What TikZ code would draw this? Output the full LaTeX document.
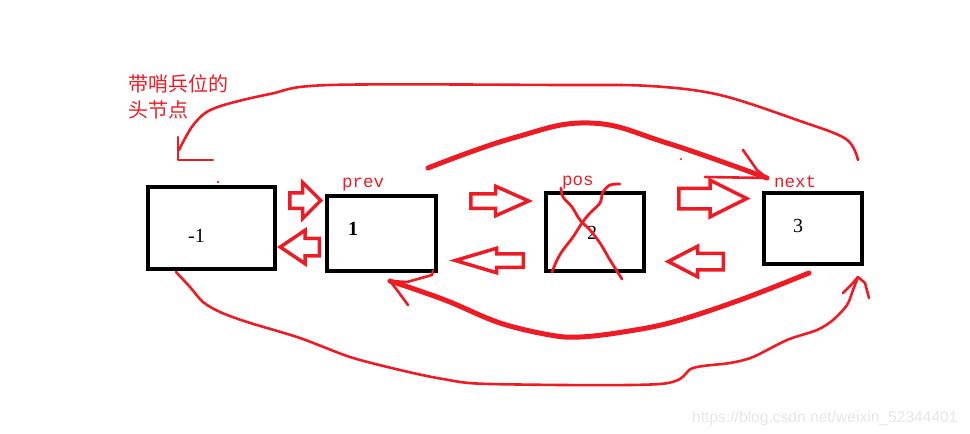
\documentclass[tikz,border=0pt]{standalone}
\usepackage{fontspec}
\setmainfont{Liberation Serif}
\setmonofont{Liberation Mono}
\setsansfont{Liberation Sans}
\newfontfamily\cjk{Noto Sans CJK SC}
\usepackage{tikz}
\usetikzlibrary{shapes.arrows}
\definecolor{cRed}{RGB}{237,28,36}
\definecolor{cMark}{RGB}{230,230,230}
\tikzset{
	cell/.style    ={rectangle, draw=black, line width=4pt, inner sep=0pt},
	num/.style     ={anchor=base west, inner sep=0pt, font=\fontsize{20}{20}\selectfont},
	tag/.style     ={anchor=base west, inner sep=0pt, text=cRed, font=\ttfamily\fontsize{17.5}{18}\selectfont},
	blockarr/.style={single arrow, draw=cRed, line width=3.5pt, fill=white, inner xsep=0pt, minimum width=0pt, anchor=tail},
	% hand drawn strokes
	pen/.style     ={cRed, line width=2.6pt, line cap=round, line join=round},
	bigpen/.style  ={cRed, line width=5pt, line cap=round, line join=round},
}

\begin{document}
\begin{tikzpicture}[x=1pt, y=-1pt]
	\useasboundingbox (0,0) rectangle (970,434);
	% list cells
	\node[cell, minimum width=127pt, minimum height=82pt] (b0) at (211.5,228) {};
	\node[cell, minimum width=109pt, minimum height=75pt] (b1) at (381.5,233.5) {};
	\node[cell, minimum width=98pt, minimum height=78pt] (b2) at (595,232) {};
	\node[cell, minimum width=98pt, minimum height=71pt] (b3) at (813,228.5) {};
	\node[num] (v0) at (188,242) {-1};
	\node[num, font=\bfseries\fontsize{20}{20}\selectfont] (v1) at (348,235) {1};
	\node[num] (v2) at (587,239) {2};
	\node[num] (v3) at (793,232) {3};
	% labels
	\node[tag] (tprev) at (342,187) {prev};
	\node[tag] (tpos) at (562,185) {pos};
	\node[tag] (tnext) at (774,187) {next};
	\node[anchor=north west, inner sep=0pt, align=left, text=cRed, font=\cjk\fontsize{20}{25.5}\selectfont] (head) at (128,74.5) {带哨兵位的\\头节点};
	% prev / next block arrows
	\node[blockarr, minimum height=31pt, inner ysep=6pt, single arrow head extend=10.5pt, single arrow tip angle=90] (a01) at (288,200.5) {};
	\node[blockarr, shape border rotate=180, minimum height=39pt, inner ysep=7pt, single arrow head extend=8pt, single arrow tip angle=68] (a10) at (321,247) {};
	\node[blockarr, minimum height=58pt, inner ysep=5.5pt, single arrow head extend=7.5pt, single arrow tip angle=48] (a12) at (469,201) {};
	\node[blockarr, shape border rotate=180, minimum height=68pt, inner ysep=5pt, single arrow head extend=5.5pt, single arrow tip angle=33] (a21) at (525,260.5) {};
	\node[blockarr, minimum height=68pt, inner ysep=8.5pt, single arrow head extend=8pt, single arrow tip angle=53] (a23) at (677,198.5) {};
	\node[blockarr, shape border rotate=180, minimum height=55pt, inner ysep=6.5pt, single arrow head extend=7pt, single arrow tip angle=55] (a32) at (725,261.5) {};
	% cross over the removed cell
	\draw[pen, line width=2.8pt] plot[smooth, tension=0.5] coordinates {(561,188) (563,197) (572,207) (580,220) (590,230) (600,243) (610,260) (622,279)};
	\draw[pen, line width=2.8pt] plot[smooth, tension=0.5] coordinates {(620,184) (610,185) (603,192) (600,203) (590,213) (582,223) (573,237) (563,250) (557,260) (552,272)};
	% curve ends
	\coordinate (tS) at (858,160);
	\coordinate (tE) at (178,160);
	\coordinate (mS) at (428,168);
	\coordinate (mE) at (767,178);
	\coordinate (nS) at (809,273);
	\coordinate (nE) at (390,281);
	\coordinate (lS) at (176,272);
	\coordinate (lE) at (858,277);
	% tail back to head
	\draw[pen] plot[smooth, tension=0.55] coordinates {(tS) (846,139) (800,121) (720,95) (650,86) (560,85) (330,85) (270,94) (215,108) (194,124) (179,150)};
	\draw[pen] (178,137) -- (tE) -- (213,160);
	% prev -> next
	\draw[bigpen] plot[smooth, tension=0.7] coordinates {(mS) (513,138) (590,123) (667,143) (mE)};
	\draw[pen] (743,150) -- (750,160) -- (757,170) -- (mE) -- (705,177);
	% next -> prev
	\draw[bigpen] plot[smooth, tension=0.6] coordinates {(nS) (740,300) (673,322) (623,332) (580,337) (550,335) (500,323) (450,302) (417,290) (nE)};
	\draw[pen] (408,305) -- (397,290) -- (nE) -- (407,282) -- (432,275) -- (433,271);
	% head -> tail
	\draw[pen] plot[smooth, tension=0.5] coordinates {(lS) (190,287) (203,302) (220,312) (247,322) (300,338) (350,357) (400,370) (443,379) (490,384) (660,384) (693,368) (730,363) (753,357) (787,340) (817,330) (833,320) (847,305) (853,290) (lE)};
	\draw[pen] (843,293) -- (852,284) -- (lE) -- (865,283) -- (869,298);
	% specks
	\fill[cRed] (218,182) circle (1.3);
	\fill[cRed] (681,159) circle (1.1);
	\node[anchor=base west, inner sep=0pt, text=cMark, font=\sffamily\fontsize{15.6}{16}\selectfont] (mark) at (692,422) {https://blog.csdn.net/weixin\_52344401};
\end{tikzpicture}
\end{document}
